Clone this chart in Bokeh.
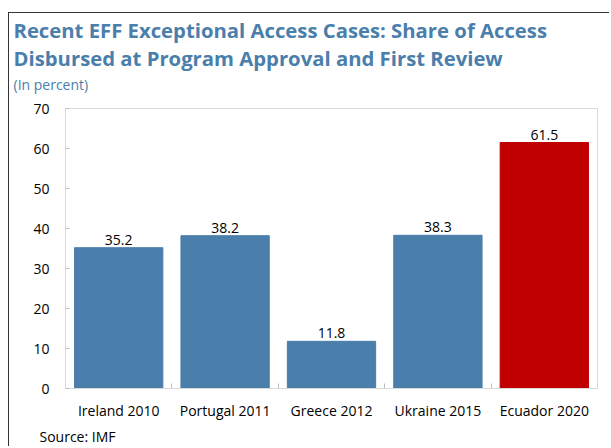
from bokeh.plotting import figure
from bokeh.models import ColumnDataSource, Title, Range1d, LinearAxis, FixedTicker
from bokeh.core.properties import value
from bokeh.embed import file_html
from bokeh.resources import INLINE

categories = ["Ireland 2010", "Portugal 2011", "Greece 2012", "Ukraine 2015", "Ecuador 2020"]
values = [35.2, 38.2, 11.8, 38.3, 61.5]
labels = ["35.2", "38.2", "11.8", "38.3", "61.5"]
colors = ["#4A7EAB", "#4A7EAB", "#4A7EAB", "#4A7EAB", "#C00000"]
y_ticks = [0, 10, 20, 30, 40, 50, 60, 70]

BLUE = "#4A7EAB"
FONT = "Open Sans"

n = len(categories)
centers = [i + 0.5 for i in range(n)]
src = ColumnDataSource(dict(x=centers, val=values, lab=labels, col=colors))

p = figure(x_range=Range1d(0, n), y_range=Range1d(0, 70), width=601, height=434,
           output_backend="svg", toolbar_location=None, x_axis_type=None,
           min_border_left=56, min_border_right=13, min_border_top=13, min_border_bottom=0)
p.margin = (12, 0, 0, 8)
p.styles = {"border-top": "1.5px solid #333", "border-left": "1.5px solid #333"}

p.vbar(x="x", top="val", width=0.83, color="col", source=src)
p.text(x="x", y="val", text="lab", source=src, text_align="center", text_baseline="bottom",
       y_offset=-3, text_font_size="14px", text_color="#000000", text_font=value(FONT))

p.title = None
spacer = Title(text=" ", text_font_size="1px", standoff=5)
sub = Title(text="(In percent)", align="left", text_font_size="14px", text_color=BLUE,
            text_font=FONT, text_font_style="normal", offset=-52, standoff=9, vertical_align="top")
t2 = Title(text="Disbursed at Program Approval and First Review", align="left", text_font_size="20.3px",
           text_color=BLUE, text_font=FONT, text_font_style="bold", offset=-52, standoff=-3)
t1 = Title(text="Recent EFF Exceptional Access Cases: Share of Access", align="left", text_font_size="20.3px",
           text_color=BLUE, text_font=FONT, text_font_style="bold", offset=-52, standoff=0)
p.add_layout(spacer, "above")
p.add_layout(sub, "above")
p.add_layout(t2, "above")
p.add_layout(t1, "above")

# separator ticks between categories (no labels)
sep_axis = LinearAxis(ticker=FixedTicker(ticks=list(range(1, n))),
                      major_tick_in=5, major_tick_out=0, major_tick_line_color="#BFBFBF",
                      minor_tick_line_color=None, axis_line_color="#D9D9D9",
                      major_label_text_font_size="0px", major_label_standoff=0,
                      major_label_text_color=None)
# category labels
cat_axis = LinearAxis(ticker=FixedTicker(ticks=centers),
                      major_label_overrides={c: lab for c, lab in zip(centers, categories)},
                      axis_line_color=None, major_tick_line_color=None, minor_tick_line_color=None,
                      major_label_standoff=6, major_label_text_font_size="14px",
                      major_label_text_font=FONT, major_label_text_color="#000000")
p.add_layout(sep_axis, "below")
p.add_layout(cat_axis, "below")

src_t = Title(text="Source: IMF", align="left", text_font_size="14px", text_color="#000000",
              text_font=FONT, text_font_style="normal", offset=-26, standoff=4)
p.add_layout(src_t, "below")

p.xgrid.grid_line_color = None
p.ygrid.grid_line_color = None
p.outline_line_color = "#D9D9D9"
p.outline_line_width = 1

p.yaxis.ticker = y_ticks
p.yaxis.axis_line_color = "#D9D9D9"
p.yaxis.major_tick_line_color = "#BFBFBF"
p.yaxis.major_tick_in = 4
p.yaxis.major_tick_out = 0
p.yaxis.minor_tick_line_color = None
p.yaxis.major_label_standoff = 16
p.yaxis.major_label_text_font_size = "14px"
p.yaxis.major_label_text_font = FONT
p.yaxis.major_label_text_color = "#000000"

open("out.html", "w").write(file_html(p, INLINE))
